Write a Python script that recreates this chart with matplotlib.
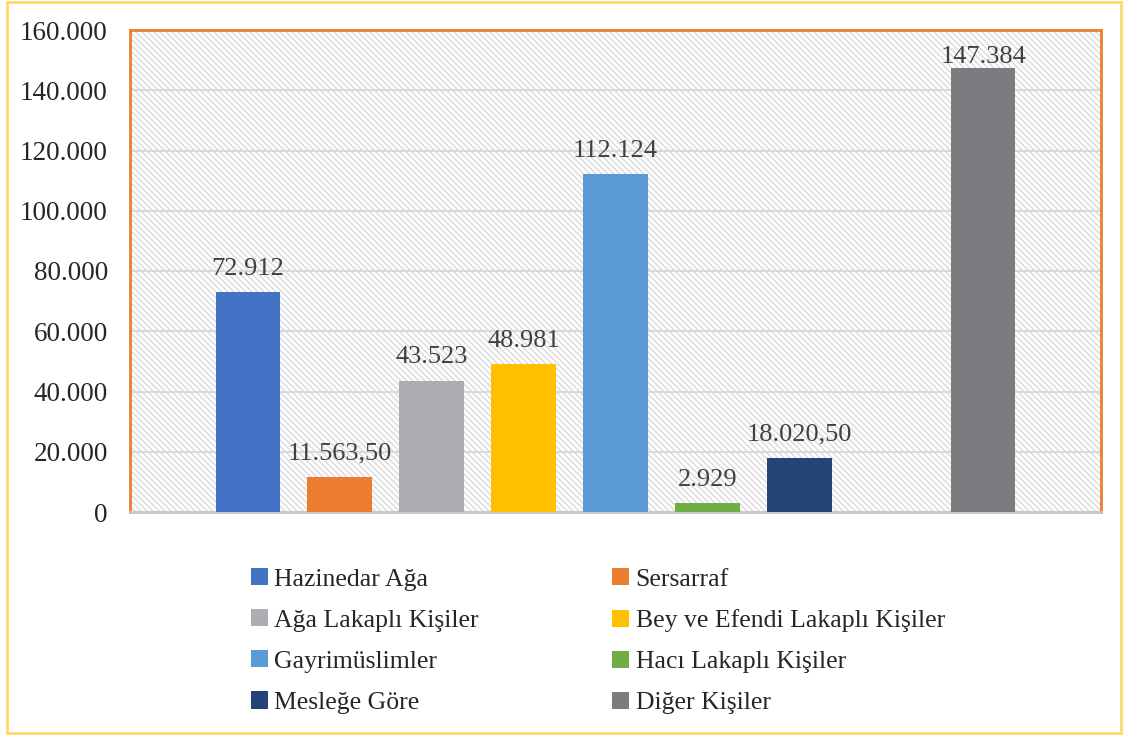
import matplotlib
matplotlib.use("Agg")
import numpy as np
import matplotlib.pyplot as plt
from matplotlib.patches import Rectangle, Patch
from matplotlib.collections import LineCollection
from matplotlib.transforms import IdentityTransform
from matplotlib import font_manager as fm

categories = ["Hazinedar Ağa", "Sersarraf", "Ağa Lakaplı Kişiler", "Bey ve Efendi Lakaplı Kişiler",
              "Gayrimüslimler", "Hacı Lakaplı Kişiler", "Mesleğe Göre", "", "Diğer Kişiler"]
values = [72912, 11563.5, 43523, 48981, 112124, 2929, 18020.5, None, 147384]
value_labels = ["72.912", "11.563,50", "43.523", "48.981", "112.124", "2.929", "18.020,50", "", "147.384"]
colors = ["#4472C4", "#ED7D31", "#ADADB2", "#FFC000", "#5B9BD5", "#70AD47", "#264478", "#FFFFFF", "#7B7C80"]
yticks = [0, 20000, 40000, 60000, 80000, 100000, 120000, 140000, 160000]
ytick_labels = ["0", "20.000", "40.000", "60.000", "80.000", "100.000", "120.000", "140.000", "160.000"]

available = {f.name for f in fm.fontManager.ttflist}
FAM = next((f for f in ["Tinos", "Liberation Serif", "DejaVu Serif"] if f in available), "serif")
plt.rcParams['font.family'] = FAM

DPI = 100
fig = plt.figure(figsize=(11.26, 7.35), dpi=DPI)
ax = fig.add_axes([130/1126, 1-512/735, (1101-130)/1126, (512-30)/735])

# outer border
fig.patches.append(Rectangle((7/1126, 2/735), (1121-7)/1126, (733-2)/735, transform=fig.transFigure,
                             fill=False, edgecolor="#FFD966", linewidth=2, zorder=0))

# diagonal stripe texture of the plot area (decoration, clipped to axes)
pos = ax.get_position()
W, H = fig.get_size_inches() * DPI
x0, x1 = pos.x0 * W, pos.x1 * W
y0, y1 = pos.y0 * H, pos.y1 * H
h = y1 - y0
segs = [[(a, y1), (a + h, y0)] for a in np.arange(x0 - h, x1 + 1, 6.0)]
stripes = LineCollection(segs, colors="#DCDCDC", linewidths=1.1, transform=IdentityTransform(), zorder=0.5)
ax.add_collection(stripes, autolim=False)
stripes.set_clip_path(ax.patch)

ax.set_ylim(0, 160000)
ax.set_xlim(-1.28, 9.28)
ax.set_yticks(yticks)
ax.set_yticklabels(ytick_labels, family=FAM, fontsize=19.5, color="#262626")
ax.tick_params(axis='y', length=0, pad=16)
ax.set_xticks([])
ax.grid(axis='y', color="#D9D9D9", linewidth=1.5, zorder=1)
ax.set_axisbelow(True)

for s in ['top', 'left', 'right']:
    ax.spines[s].set_color("#ED7D31")
    ax.spines[s].set_linewidth(2)
ax.spines['bottom'].set_color("#D0C4BC")
ax.spines['bottom'].set_linewidth(2)

handles = []
for i, (cat, v, lab, c) in enumerate(zip(categories, values, value_labels, colors)):
    if v is None:
        continue
    ax.bar(i, v, width=0.7, color=c, zorder=3)
    off = 9 if v < 140000 else 0
    ax.annotate(lab, (i, v), xytext=(0, off), textcoords="offset points",
                ha="center", va="bottom", color="#404040", zorder=4, family=FAM, fontsize=19)
    handles.append(Patch(facecolor=c, label=cat))

# row-major legend ordering for 2 columns
order = [0, 2, 4, 6, 1, 3, 5, 7]
hs = [handles[k] for k in order]
leg = fig.legend(handles=hs, labels=[h.get_label() for h in hs], ncol=2,
                 loc="upper left", bbox_to_anchor=(228/1126, 1-545/735),
                 frameon=False, prop={'family': FAM, 'size': 18.5},
                 handlelength=0.65, handleheight=0.65,
                 handletextpad=0.25, columnspacing=5.2, labelspacing=0.72, labelcolor="#262626")

fig.savefig("out.png", dpi=DPI)
